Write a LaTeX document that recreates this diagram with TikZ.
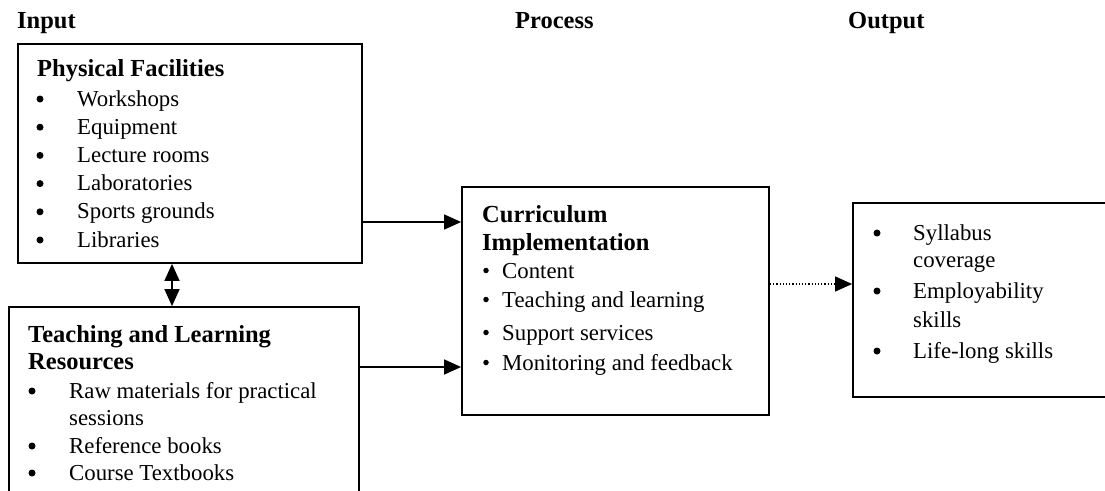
\documentclass[tikz,border=0pt]{standalone}
\usepackage{fontspec}
\setmainfont{Liberation Serif}
\usetikzlibrary{arrows.meta}
\begin{document}
\begin{tikzpicture}[x=1pt,y=-1pt,
 box/.style={draw,line width=1.8pt,inner sep=0pt},
 txt/.style={anchor=base west,inner sep=0pt,font=\fontsize{22.8}{28}\selectfont},
 hd/.style={anchor=base west,inner sep=0pt,font=\fontsize{24.5}{28}\selectfont\bfseries},
 bul/.style={circle,fill,inner sep=0pt,minimum size=7pt},
 sbul/.style={circle,fill,inner sep=0pt,minimum size=5.5pt},
 arr/.style={line width=1.5pt,-{Triangle[length=17pt,width=15pt]}},
 dbl/.style={line width=1.5pt,{Triangle[length=17pt,width=15pt]}-{Triangle[length=17pt,width=15pt]}},
 dotarr/.style={line width=1.2pt,dotted,-{Triangle[length=17pt,width=15pt]}}]
\useasboundingbox (0,0) rectangle (1105,490);
% headers
\node[hd] (hin) at (17,28) {Input};
\node[hd] (hpr) at (515,28) {Process};
\node[hd] (hout) at (848,28) {Output};
% boxes
\node[box,minimum width=344pt,minimum height=219pt] (pf) at (190,153.5) {};
\node[box,minimum width=350pt,minimum height=213pt] (tl) at (184,413.5) {};
\node[box,minimum width=307pt,minimum height=228pt] (ci) at (615.5,301) {};
\node[box,minimum width=272pt,minimum height=194pt] (out) at (989,300) {};
% box 1
\node[hd] (pft) at (37,76) {Physical Facilities};
\foreach \t [count=\i] in {Workshops,Equipment,Lecture rooms,Laboratories,Sports grounds,Libraries}{
  \node[bul] (pfb\i) at (40,{99+28.2*(\i-1)}) {};
  \node[txt] (pfi\i) at (77,{106+28.2*(\i-1)}) {\t};
}
% box 2
\node[hd] (tlt1) at (28,342) {Teaching and Learning};
\node[hd] (tlt2) at (28,369) {Resources};
\node[bul] (tlb1) at (32,391) {};
\node[txt] (tli1) at (69,398) {Raw materials for practical};
\node[txt] (tli1b) at (69,425) {sessions};
\node[bul] (tlb2) at (32,446) {};
\node[txt] (tli2) at (69,453) {Reference books};
\node[bul] (tlb3) at (32,473) {};
\node[txt] (tli3) at (69,480) {Course Textbooks};
% box 3
\node[hd] (cit1) at (482,222) {Curriculum};
\node[hd] (cit2) at (482,250) {Implementation};
\foreach \t/\y [count=\i] in {Content/278,Teaching and learning/307,Support services/340,Monitoring and feedback/370}{
  \node[sbul] (cib\i) at (486,{\y-7.5}) {};
  \node[txt] (cii\i) at (502,\y) {\t};
}
% box 4
\node[bul] (ob1) at (877,233) {};
\node[txt] (oi1) at (913,240) {Syllabus};
\node[txt] (oi1b) at (913,267) {coverage};
\node[bul] (ob2) at (877,291) {};
\node[txt] (oi2) at (913,298) {Employability};
\node[txt] (oi2b) at (913,327) {skills};
\node[bul] (ob3) at (877,351) {};
\node[txt] (oi3) at (913,358) {Life-long skills};
% connectors
\coordinate (y1) at (0,222);
\coordinate (y2) at (0,367);
\coordinate (y3) at (0,284);
\coordinate (x1) at (172,0);
\draw[arr] (pf.east |- y1) -- (ci.west |- y1);
\draw[arr] (tl.east |- y2) -- (ci.west |- y2);
\draw[dotarr] (ci.east |- y3) -- (out.west |- y3);
\draw[dbl] (pf.south -| x1) -- (tl.north -| x1);
\end{tikzpicture}
\end{document}
